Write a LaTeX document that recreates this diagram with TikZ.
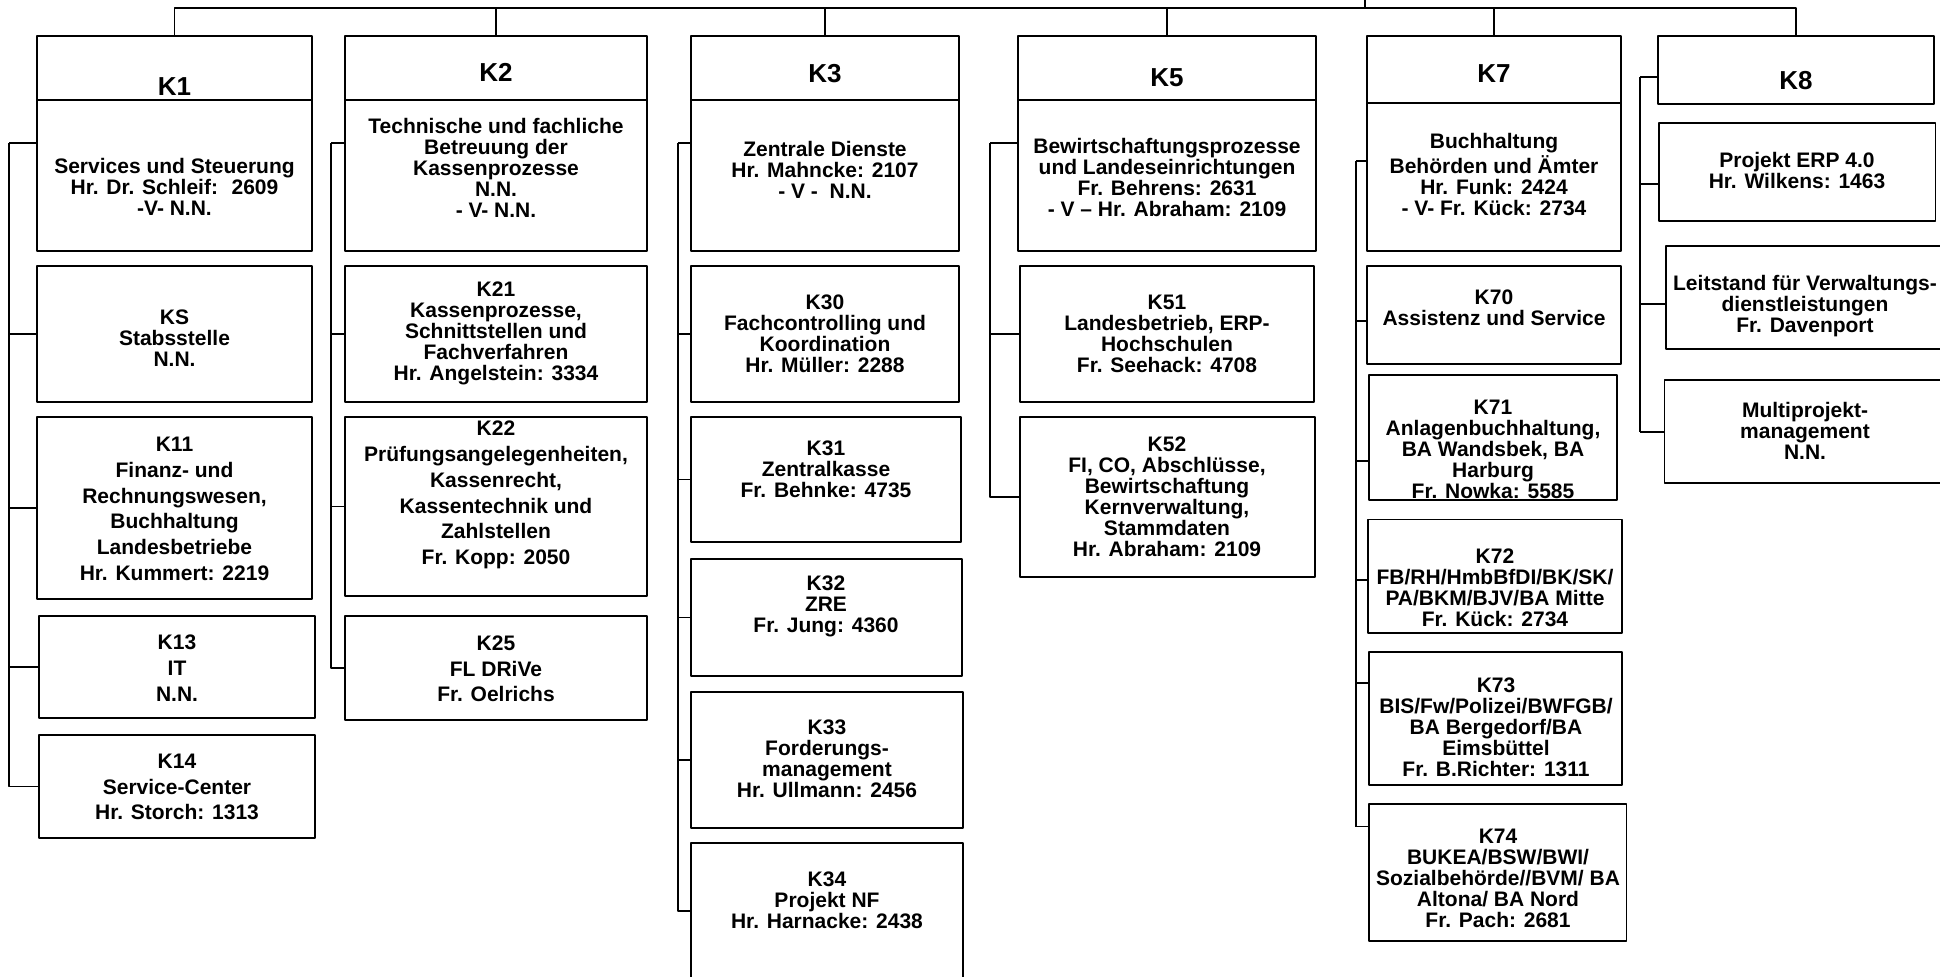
\documentclass[tikz,border=0pt]{standalone}
\usepackage{fontspec}
\setmainfont{Liberation Sans}
\usetikzlibrary{fit}
\begin{document}
\begin{tikzpicture}[x=0.5pt,y=-0.5pt,line join=round,
	box/.style={draw,line width=0.75pt,inner sep=0pt},
	txt/.style={align=center,inner sep=0pt,font=\bfseries\fontsize{10.5}{10.5}\selectfont},
	wide/.style={align=center,inner sep=0pt,font=\bfseries\fontsize{10.5}{12.85}\selectfont},
	head/.style={inner sep=0pt,font=\bfseries\fontsize{13}{13}\selectfont},
	link/.style={line width=0.6pt},
	boldlink/.style={line width=1pt}]
	\useasboundingbox (0,0) rectangle (1940,976);
	\node[box,fit={(37,36)(312,100)}] (k1h) {};
	\node[box,fit={(37,100)(312,251)}] (k1b) {};
	\node[box,fit={(37,266)(312,402)}] (ks) {};
	\node[box,fit={(37,417)(312,599)}] (k11) {};
	\node[box,fit={(39,616)(315,718)}] (k13) {};
	\node[box,fit={(39,735)(315,838)}] (k14) {};
	\node[head] (k1t) at (174.5,87) {K1};
	\node[txt] (k1bt) at (174.5,187) {Services und Steuerung\\Hr. Dr. Schleif:~ 2609\\-V- N.N.};
	\node[txt] (kst) at (174.5,338) {KS\\Stabsstelle\\N.N.};
	\node[wide] (k11t) at (174.5,509) {K11\\Finanz- und\\Rechnungswesen,\\Buchhaltung\\Landesbetriebe\\Hr. Kummert: 2219};
	\node[wide] (k13t) at (177,668) {K13\\IT\\N.N.};
	\node[wide] (k14t) at (177,787) {K14\\Service-Center\\Hr. Storch: 1313};
	\node[box,fit={(345,36)(647,100)}] (k2h) {};
	\node[box,fit={(345,100)(647,251)}] (k2b) {};
	\node[box,fit={(345,266)(647,402)}] (k21) {};
	\node[box,fit={(345,417)(647,596)}] (k22) {};
	\node[box,fit={(345,616)(647,720)}] (k25) {};
	\node[head] (k2t) at (496,72.5) {K2};
	\node[txt] (k2bt) at (496,168) {Technische und fachliche\\Betreuung der\\Kassenprozesse\\N.N.\\- V- N.N.};
	\node[txt] (k21t) at (496,333) {K21\\Kassenprozesse,\\Schnittstellen und\\Fachverfahren\\Hr. Angelstein: 3334};
	\node[wide] (k22t) at (496,495) {K22\\Prüfungsangelegenheiten,\\Kassenrecht,\\Kassentechnik und\\Zahlstellen\\Fr. Kopp: 2050};
	\node[wide] (k25t) at (496,669) {K25\\FL DRiVe\\Fr. Oelrichs};
	\node[box,fit={(691,36)(959,100)}] (k3h) {};
	\node[box,fit={(691,100)(959,251)}] (k3b) {};
	\node[box,fit={(691,266)(959,402)}] (k30) {};
	\node[box,fit={(691,417)(961,542)}] (k31) {};
	\node[box,fit={(691,559)(962,676)}] (k32) {};
	\node[box,fit={(691,692)(963,828)}] (k33) {};
	\node[box,fit={(691,843)(963,979)}] (k34) {};
	\node[head] (k3t) at (825,74) {K3};
	\node[txt] (k3bt) at (825,170) {Zentrale Dienste\\Hr. Mahncke: 2107\\- V -~ N.N.};
	\node[txt] (k30t) at (825,333.5) {K30\\Fachcontrolling und\\Koordination\\Hr. Müller: 2288};
	\node[txt] (k31t) at (826,469) {K31\\Zentralkasse\\Fr. Behnke: 4735};
	\node[txt] (k32t) at (826,606) {K32\\ZRE\\Fr. Jung: 4360};
	\node[txt] (k33t) at (827,759) {K33\\Forderungs-\\management\\Hr. Ullmann: 2456};
	\node[txt] (k34t) at (827,900) {K34\\Projekt NF\\Hr. Harnacke: 2438};
	\node[box,fit={(1018,36)(1316,100)}] (k5h) {};
	\node[box,fit={(1018,100)(1316,251)}] (k5b) {};
	\node[box,fit={(1020,266)(1314,402)}] (k51) {};
	\node[box,fit={(1020,417)(1315,577)}] (k52) {};
	\node[head] (k5t) at (1167,78) {K5};
	\node[txt] (k5bt) at (1167,177.5) {Bewirtschaftungsprozesse\\und Landeseinrichtungen\\Fr. Behrens: 2631\\- V – Hr. Abraham: 2109};
	\node[txt] (k51t) at (1167,334) {K51\\Landesbetrieb, ERP-\\Hochschulen\\Fr. Seehack: 4708};
	\node[txt] (k52t) at (1167,496.5) {K52\\FI, CO, Abschlüsse,\\Bewirtschaftung\\Kernverwaltung,\\Stammdaten\\Hr. Abraham: 2109};
	\node[box,fit={(1367,36)(1621,103)}] (k7h) {};
	\node[box,fit={(1367,103)(1621,251)}] (k7b) {};
	\node[box,fit={(1367,266)(1621,364)}] (k70) {};
	\node[box,fit={(1369,375)(1617,500)}] (k71) {};
	\node[box,fit={(1368,519.5)(1622,633)}] (k72) {};
	\node[box,fit={(1369,652)(1622,785)}] (k73) {};
	\node[box,fit={(1369,804)(1626.5,941)}] (k74) {};
	\node[head] (k7t) at (1494,74) {K7};
	\node[txt] (k7bt) at (1494,174.5) {Buchhaltung\\Behörden und Ämter\\Hr. Funk: 2424\\- V- Fr. Kück: 2734};
	\node[txt] (k70t) at (1494,307.5) {K70\\Assistenz und Service};
	\node[txt] (k71t) at (1493,449) {K71\\Anlagenbuchhaltung,\\BA Wandsbek, BA\\Harburg\\Fr. Nowka: 5585};
	\node[txt] (k72t) at (1495,588) {K72\\FB/RH/HmbBfDI/BK/SK/\\PA/BKM/BJV/BA Mitte\\Fr. Kück: 2734};
	\node[txt] (k73t) at (1496,727) {K73\\BIS/Fw/Polizei/BWFGB/\\BA Bergedorf/BA\\Eimsbüttel\\Fr. B.Richter: 1311};
	\node[txt] (k74t) at (1498,878) {K74\\BUKEA/BSW/BWI/\\Sozialbehörde//BVM/ BA\\Altona/ BA Nord\\Fr. Pach: 2681};
	\node[box,fit={(1658,36)(1934,104)}] (k8h) {};
	\node[box,fit={(1659,123)(1935.5,221)}] (erp) {};
	\node[box,fit={(1666,246)(1952,349)}] (leit) {};
	\node[box,fit={(1664.5,380)(1952,483)}] (multi) {};
	\node[head] (k8t) at (1796,80.5) {K8};
	\node[txt] (erpt) at (1797,170.5) {Projekt ERP 4.0\\Hr. Wilkens: 1463};
	\node[txt] (leitt) at (1805,306.5) {Leitstand für Verwaltungs-\\dienstleistungen\\Fr. Davenport};
	\node[txt] (multit) at (1805,431) {Multiprojekt-\\management\\N.N.};
	\coordinate (root) at (1365,0);
	\coordinate (bus) at (0,8);
	\draw[link] (root) -- (root |- bus);
	\draw[link] (k1h.north) -- (k1h.north |- bus) -- (k2h.north |- bus);
	\draw[boldlink] (k2h.north |- bus) -- (root |- bus);
	\draw[link] (root |- bus) -- (k8h.north |- bus) -- (k8h.north);
	\foreach \n in {k2h,k3h,k5h,k7h}
		\draw[link] (\n.north) -- (\n.north |- bus);
	\coordinate (s1) at (9,143);
	\coordinate (s2) at (331,143);
	\coordinate (s3) at (678,143);
	\coordinate (s5) at (990,143);
	\draw[boldlink] (s1) -- (s1 -| k1b.west);
	\draw[boldlink] (s2) -- (s2 -| k2b.west);
	\draw[boldlink] (s3) -- (s3 -| k3b.west);
	\draw[boldlink] (s5) -- (s5 -| k5b.west);
	\draw[link] (s1) |- (k14.west);
	\draw[link] (s2) |- (k25.west);
	\draw[link] (s3) |- (k34.west);
	\draw[link] (s5) |- (k52.west);
	\foreach \n in {ks,k11,k13}
		\draw[link] (s1 |- \n.west) -- (\n.west);
	\foreach \n in {k21,k22}
		\draw[link] (s2 |- \n.west) -- (\n.west);
	\foreach \n in {k30,k31,k32,k33}
		\draw[link] (s3 |- \n.west) -- (\n.west);
	\draw[link] (s5 |- k51.west) -- (k51.west);
	\coordinate (s7) at (1356,161);
	\coordinate (s8) at (1640,77);
	\draw[link] (s7) -- (s7 |- 0,826.5);
	\draw[link] (s8) -- (s8 |- 0,432);
	\foreach \n/\y in {k7b/161,k70/321,k71/461,k72/580,k73/683,k74/826.5}
		\draw[link] (s7 |- 0,\y) -- (\n.west |- 0,\y);
	\foreach \n/\y in {k8h/77,erp/184,leit/304,multi/432}
		\draw[link] (s8 |- 0,\y) -- (\n.west |- 0,\y);
\end{tikzpicture}
\end{document}
